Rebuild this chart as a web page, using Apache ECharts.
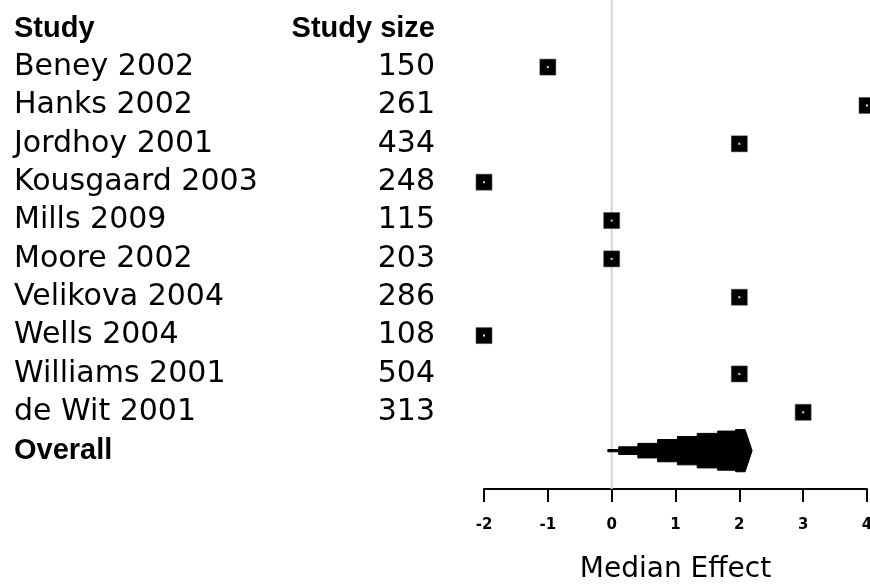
<!DOCTYPE html>
<html>
<head>
<meta charset="utf-8">
<script src="https://cdn.jsdelivr.net/npm/echarts@6/dist/echarts.min.js"></script>
<style>
  html, body { margin: 0; padding: 0; background: #fff; }
  #chart { width: 870px; height: 585px; }
</style>
</head>
<body>
<div id="chart"></div>
<script>
// Study table and effect estimates
const studies = ['Beney 2002', 'Hanks 2002', 'Jordhoy 2001', 'Kousgaard 2003', 'Mills 2009',
                 'Moore 2002', 'Velikova 2004', 'Wells 2004', 'Williams 2001', 'de Wit 2001'];
const studySizes = [150, 261, 434, 248, 115, 203, 286, 108, 504, 313];
const medianEffects = [-1, 4, 2, -2, 0, 0, 2, -2, 2, 3];

// Overall summary shape: step edges on the effect scale and the half-height of each step (in rows)
const overallEdges = [-0.06, 0.11, 0.41, 0.72, 1.03, 1.34, 1.66, 1.94, 2.09];
const overallHalfHeights = [0.03, 0.10, 0.19, 0.29, 0.37, 0.45, 0.51, 0.55];
const overallTip = 2.2;

const xTicks = [-2, -1, 0, 1, 2, 3, 4];
const yRange = [-0.75, 12];

const FONT = 'DejaVu Sans';
const BOLD_FONT = 'Liberation Sans';

// Row index: 0 = header, 1..10 = studies, 11 = overall
const overallRow = studies.length + 1;

const tableRows = [{ value: [xTicks[0], 0], name: 'Study', size: 'Study size', bold: true }]
  .concat(studies.map((s, i) => ({ value: [xTicks[0], i + 1], name: s, size: String(studySizes[i]), bold: false })))
  .concat([{ value: [xTicks[0], overallRow], name: 'Overall', size: '', bold: true }]);

const points = medianEffects.map((v, i) => [v, i + 1]);

const chart = echarts.init(document.getElementById('chart'), null, { renderer: 'canvas' });

chart.setOption({
  backgroundColor: '#ffffff',
  animation: false,
  grid: { left: 484, right: 3, top: 0, height: 489, containLabel: false, outerBoundsMode: 'none' },
  xAxis: {
    type: 'value',
    min: xTicks[0], max: xTicks[xTicks.length - 1], interval: 1,
    splitLine: { show: false },
    axisLine: { show: true, onZero: false, lineStyle: { color: '#000', width: 2 } },
    axisTick: { show: true, length: 13, lineStyle: { color: '#000', width: 2 } },
    axisLabel: { color: '#000', fontFamily: FONT, fontSize: 15, fontWeight: 'bold', margin: 29, showMaxLabel: true },
    name: 'Median Effect',
    nameLocation: 'middle',
    nameGap: 67,
    nameTextStyle: { color: '#000', fontFamily: FONT, fontSize: 28 }
  },
  yAxis: {
    type: 'value',
    inverse: true,
    min: yRange[0], max: yRange[1],
    show: false
  },
  series: [
    {
      // reference line at zero effect
      type: 'line',
      silent: true,
      symbol: 'none',
      lineStyle: { color: '#d4d4d4', width: 2 },
      data: [[0, yRange[0]], [0, yRange[1]]],
      z: 0
    },
    {
      // left-hand table: study name and study size per row
      type: 'scatter',
      symbolSize: 0,
      silent: true,
      clip: false,
      itemStyle: { opacity: 1 },
      data: tableRows,
      label: {
        show: true,
        position: 'left',
        distance: 49,
        color: '#000',
        formatter: p => p.data.bold
          ? '{bn|' + p.data.name + '}{bs|' + p.data.size + '}'
          : '{n|' + p.data.name + '}{s|' + p.data.size + '}',
        rich: {
          n: { width: 300, align: 'left', fontFamily: FONT, fontSize: 30, color: '#000' },
          s: { width: 121, align: 'right', fontFamily: FONT, fontSize: 30, color: '#000' },
          bn: { width: 300, align: 'left', fontFamily: BOLD_FONT, fontWeight: 'bold', fontSize: 29, color: '#000' },
          bs: { width: 121, align: 'right', fontFamily: BOLD_FONT, fontWeight: 'bold', fontSize: 29, color: '#000' }
        }
      },
      z: 1
    },
    {
      // summary shape for the overall estimate
      type: 'custom',
      silent: true,
      data: [[overallEdges[0], overallRow]],
      renderItem: function (params, api) {
        const row = api.value(1);
        const top = [];
        for (let i = 0; i < overallHalfHeights.length; i++) {
          top.push([overallEdges[i], overallHalfHeights[i]]);
          top.push([overallEdges[i + 1], overallHalfHeights[i]]);
        }
        const pts = [];
        top.forEach(([x, h]) => pts.push(api.coord([x, row - h])));
        pts.push(api.coord([overallTip, row]));
        for (let i = top.length - 1; i >= 0; i--) {
          pts.push(api.coord([top[i][0], row + top[i][1]]));
        }
        return {
          type: 'polygon',
          shape: { points: pts },
          style: { fill: '#000', stroke: '#000', lineWidth: 1 }
        };
      },
      z: 3
    },
    {
      // study estimates
      type: 'scatter',
      symbol: 'rect',
      symbolSize: 16,
      clip: false,
      itemStyle: { color: '#000', borderColor: '#444', borderWidth: 0.5, opacity: 1 },
      data: points,
      z: 4
    },
    {
      // centre marks on each estimate
      type: 'scatter',
      symbol: 'rect',
      symbolSize: 2,
      clip: false,
      silent: true,
      itemStyle: { color: '#d8d8d8', opacity: 1 },
      data: points,
      z: 5
    }
  ]
});
</script>
</body>
</html>
